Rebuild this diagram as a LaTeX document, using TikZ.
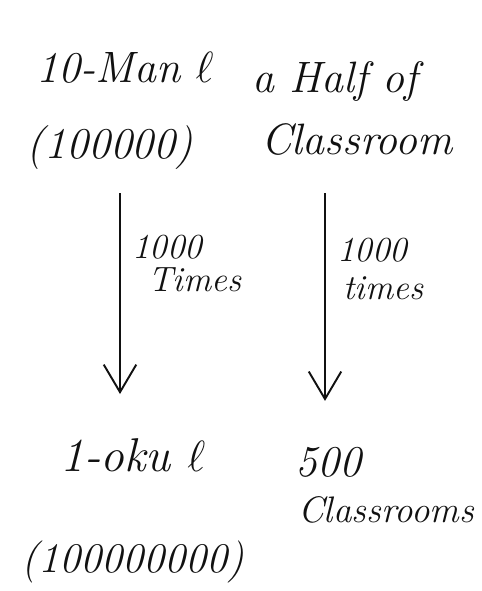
\documentclass[tikz,border=0pt]{standalone}
\usepackage{tikz}
\usetikzlibrary{arrows.meta}
\definecolor{inkblack}{HTML}{111111}
\tikzstyle{hand} = [inner sep=1pt, text=inkblack, font=\fontsize{25}{27}\selectfont\itshape]
\tikzstyle{handsmall} = [inner sep=1pt, text=inkblack, font=\fontsize{20}{22}\selectfont\itshape]
\tikzstyle{arrow} = [-{Straight Barb[length=5.5mm, width=6.5mm]}, line width=1.1pt, inkblack]

\begin{document}
\begin{tikzpicture}[x=0.02cm, y=-0.02cm]
\useasboundingbox (0,0) rectangle (482,591);
\node[hand] (man) at (125,68) {10-Man $\ell$};
\node[hand] (mannum) at (110,148) {(100000)};
\node[hand] (half) at (335,82) {a Half of};
\node[hand] (room) at (357,140) {Classroom};

\node[hand, font=\fontsize{27}{29}\selectfont\itshape] (oku) at (133,455) {1-oku $\ell$};
\node[hand, font=\fontsize{24}{26}\selectfont\itshape] (okunum) at (133,562) {(100000000)};
\node[hand, anchor=west] (five) at (293,462) {500};
\node[handsmall, anchor=west, font=\fontsize{21}{23}\selectfont\itshape] (rooms) at (296,510) {Classrooms};

\coordinate (lx) at (120,0);
\coordinate (rx) at (325,0);
\draw[arrow, shorten <=12pt, shorten >=24pt] (mannum.south -| lx) -- (oku.north -| lx);
\draw[arrow, shorten <=20pt, shorten >=25pt] (room.south -| rx) -- (five.north -| rx);

\node[handsmall, anchor=west] (lt) at (130,247) {1000};
\node[handsmall, anchor=west] (ltimes) at (146,280) {Times};
\node[handsmall, anchor=west] (rt) at (335,250) {1000};
\node[handsmall, anchor=west] (rtimes) at (341,288) {times};
\end{tikzpicture}
\end{document}
